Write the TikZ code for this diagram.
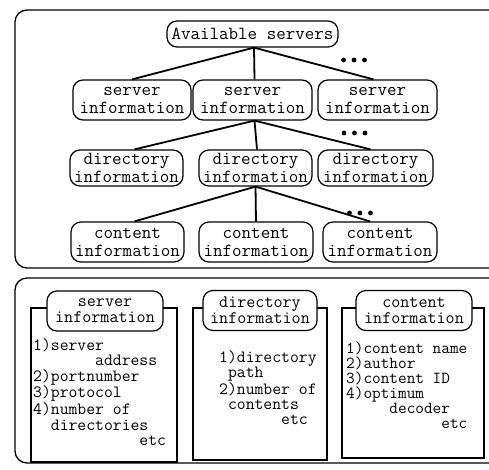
\documentclass[tikz,border=0pt]{standalone}
\usepackage{fontspec}
\newcommand{\heavytt}{\ttfamily\addfontfeature{FakeBold=1.2}}
\begin{document}
\begin{tikzpicture}[x=1pt,y=-1pt,
  outerbox/.style={draw,line width=1.3pt,rounded corners=12pt},
  tnode/.style={draw,line width=1.2pt,rounded corners=10pt,inner sep=0pt,align=center,
    font=\heavytt\fontsize{18.5}{18}\selectfont,minimum height=40pt},
  bnode/.style={draw,fill=white,line width=1.2pt,rounded corners=10pt,inner sep=0pt,align=center,
    font=\heavytt\fontsize{17.6}{16}\selectfont,minimum height=40pt},
  panel/.style={draw,line width=1.2pt},
  listtext/.style={inner sep=0pt,align=left,anchor=north west},
  conn/.style={line width=1.8pt},
  dot/.style={fill=black}]
\useasboundingbox (0,0) rectangle (489,469);
\clip (0,0) rectangle (489,469);
% outer frames
\draw[outerbox] (15,10) rectangle (520,268);
\draw[outerbox] (15,278) rectangle (520,463);
% tree
\node[tnode,minimum width=171pt,minimum height=26pt] (avail) at (252.5,34) {Available servers};
\node[tnode,minimum width=118pt] (s1) at (132,100) {server\\information};
\node[tnode,minimum width=119pt] (s2) at (252.5,100) {server\\information};
\node[tnode,minimum width=119pt] (s3) at (377.5,100) {server\\information};
\node[tnode,minimum width=113pt,minimum height=36pt] (d1) at (126.5,168) {directory\\information};
\node[tnode,minimum width=113pt,minimum height=36pt] (d2) at (255.5,168) {directory\\information};
\node[tnode,minimum width=115pt,minimum height=36pt] (d3) at (375.5,168) {directory\\information};
\node[tnode,minimum width=113pt] (c1) at (127.5,242) {content\\information};
\node[tnode,minimum width=114pt] (c2) at (256,242) {content\\information};
\node[tnode,minimum width=114pt] (c3) at (380,242) {content\\information};
\coordinate (a0) at ([xshift=1.5pt]avail.south);
\draw[conn] (a0) -- (s1.north);
\draw[conn] (a0) -- ([xshift=2pt]s2.north);
\draw[conn] (a0) -- ([xshift=-4pt]s3.north);
\coordinate (b0) at ([xshift=2pt]s2.south);
\draw[conn] (b0) -- ([xshift=8pt]d1.north);
\draw[conn] (b0) -- ([xshift=1.5pt]d2.north);
\draw[conn] (b0) -- ([xshift=-5pt]d3.north);
\draw[conn] (d2.south) -- ([xshift=7pt]c1.north);
\draw[conn] (d2.south) -- (c2.north);
\draw[conn] (d2.south) -- ([xshift=-10pt]c3.north);
% ellipsis dots
\foreach \yy/\xx in {60/343.5,133/344,213/349.5}{
  \foreach \k in {0,1,2}{\fill[dot] (\xx+10.5*\k,\yy) circle (2.4pt);}
}
% bottom panels
\draw[panel] (31,308) rectangle (177,462);
\node[bnode,minimum width=116pt] (ps) at (105,311) {server\\information};
\node[listtext,font=\heavytt\fontsize{17.2}{15.5}\selectfont] (ls) at (33,338)
 {1)server\\~~~~~~~address\\2)portnumber\\3)protocol\\4)number of\\~~directories\\~~~~~~~~~~~~etc};
\draw[panel] (193,308) rectangle (327,460);
\node[bnode,minimum width=114pt] (pd) at (260,310.5) {directory\\information};
\node[listtext,font=\heavytt\fontsize{17.2}{15.2}\selectfont] (ld) at (219,350)
 {1)directory\\~path\\2)number of\\~contents\\~~~~~~~etc};
\draw[panel] (342,308) rectangle (484,458);
\node[bnode,minimum width=116pt] (pc) at (414,310.5) {content\\information};
\node[listtext,font=\heavytt\fontsize{16.8}{15}\selectfont] (lc) at (346,342)
 {1)content name\\2)author\\3)content ID\\4)optimum\\~~~~~decoder\\~~~~~~~~~~~etc};
\end{tikzpicture}
\end{document}
